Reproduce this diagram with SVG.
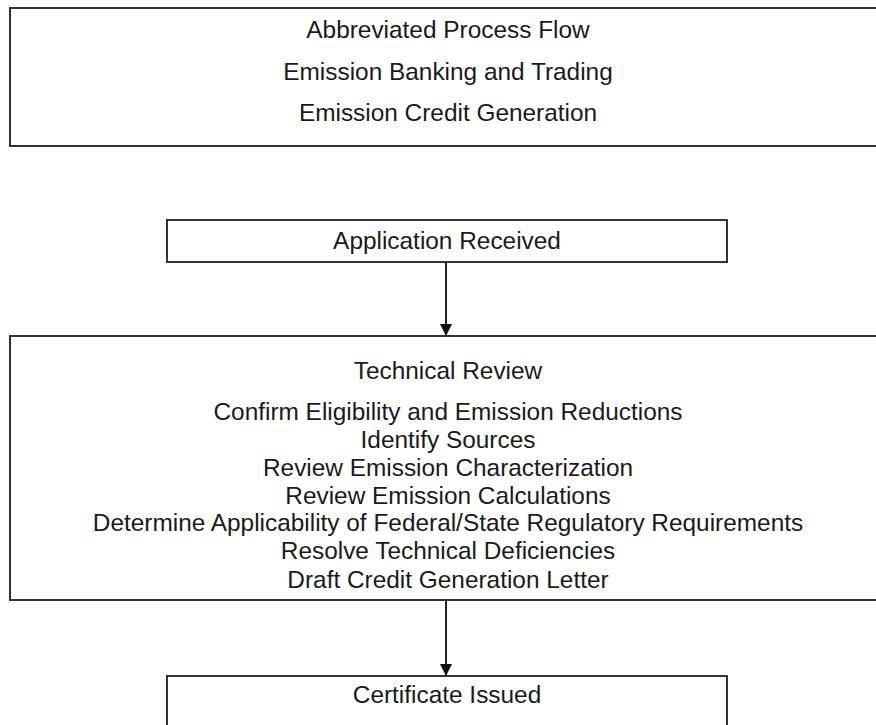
<svg xmlns="http://www.w3.org/2000/svg" width="876" height="725" viewBox="0 0 876 725">
<defs>
<style>
.box{fill:#fff;stroke:#333;stroke-width:2}
.t{font-family:"Liberation Sans",Arial,sans-serif;font-size:24.4px;fill:#1a1a1a;text-anchor:middle}
.c{stroke:#222;stroke-width:2;fill:none}
</style>
<marker id="ah" markerWidth="12" markerHeight="14" refX="11" refY="6" orient="auto" markerUnits="userSpaceOnUse">
<path d="M0,0 L12,6 L0,12 Z" fill="#111"/>
</marker>
</defs>
<rect width="876" height="725" fill="#fff"/>
<g id="header">
<rect class="box" x="10" y="8" width="890" height="138"/>
<text class="t" x="448" y="38">Abbreviated Process Flow</text>
<text class="t" x="448" y="80">Emission Banking and Trading</text>
<text class="t" x="448" y="121">Emission Credit Generation</text>
</g>
<g id="application">
<rect class="box" x="167" y="220" width="560" height="42"/>
<text class="t" x="447" y="249">Application Received</text>
</g>
<g id="review">
<rect class="box" x="10" y="336" width="890" height="264"/>
<text class="t" x="448" y="379">Technical Review</text>
<text class="t" x="448" y="420">Confirm Eligibility and Emission Reductions</text>
<text class="t" x="448" y="448">Identify Sources</text>
<text class="t" x="448" y="476">Review Emission Characterization</text>
<text class="t" x="448" y="504">Review Emission Calculations</text>
<text class="t" x="448" y="531">Determine Applicability of Federal/State Regulatory Requirements</text>
<text class="t" x="448" y="559">Resolve Technical Deficiencies</text>
<text class="t" x="448" y="588">Draft Credit Generation Letter</text>
</g>
<g id="certificate">
<rect class="box" x="167" y="676" width="560" height="70"/>
<text class="t" x="447" y="703">Certificate Issued</text>
</g>
<g id="connectors">
<line class="c" x1="446" y1="263" x2="446" y2="335" marker-end="url(#ah)"/>
<line class="c" x1="446" y1="601" x2="446" y2="675" marker-end="url(#ah)"/>
</g>
</svg>
